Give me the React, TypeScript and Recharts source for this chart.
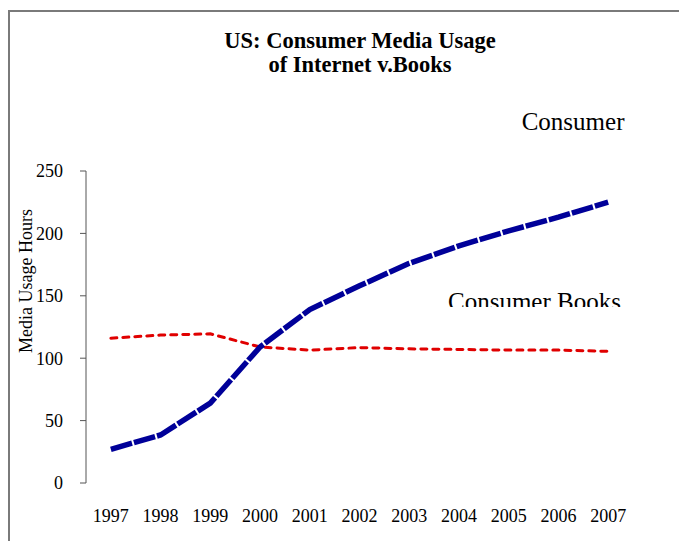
import { LineChart, Line, XAxis, YAxis } from 'recharts';

const years = ['1997', '1998', '1999', '2000', '2001', '2002', '2003', '2004', '2005', '2006', '2007'];
const internetHours = [27, 38.5, 64, 109, 139, 158, 176, 190, 202, 213, 225];
const bookHours = [116, 118.5, 119.5, 109, 106.5, 108.5, 107.5, 107, 106.5, 106.5, 105.5];
const yTicks = [0, 50, 100, 150, 200, 250];

const titleLines = ['US: Consumer Media Usage', 'of Internet v.Books'];
const yLabel = 'Media Usage Hours';
const internetLabel = 'Consumer';
const booksLabel = 'Consumer Books';

const serif = '"Liberation Serif", "Times New Roman", serif';

// x sits in the middle of each year's slot so the tick marks land on the slot edges
const data = years.map((year, i) => ({
  x: i + 0.5,
  year,
  internet: internetHours[i],
  books: bookHours[i],
}));

const boundaryTicks = years.map((_, i) => i).concat(years.length);
const centerTicks = years.map((_, i) => i + 0.5);

const W = 677;
const H = 531;

export default function App() {
  const tickStyle = { fill: '#000', fontSize: 18, fontFamily: serif };

  return (
    <div
      style={{
        marginTop: 2,
        borderTop: '2px solid #7a7a7a',
        borderLeft: '2px solid #7a7a7a',
        width: W,
        height: H,
        position: 'relative',
        background: '#fff',
      }}
    >
      <LineChart
        width={W}
        height={H}
        data={data}
        margin={{ top: 159, right: 54, left: 0, bottom: 0 }}
      >
        <XAxis
          xAxisId={0}
          dataKey="x"
          type="number"
          domain={[0, years.length]}
          ticks={boundaryTicks}
          tickFormatter={() => ''}
          height={0}
          tickSize={6}
          stroke="#555"
          axisLine={{ stroke: '#555' }}
          tickLine={{ stroke: '#555' }}
        />
        <XAxis
          xAxisId="labels"
          dataKey="x"
          type="number"
          domain={[0, years.length]}
          ticks={centerTicks}
          tickFormatter={(v: number) => years[Math.round(v - 0.5)]}
          height={60}
          axisLine={false}
          tickLine={false}
          tickSize={6}
          tickMargin={20}
          tick={tickStyle}
          interval={0}
        />
        <YAxis
          domain={[0, 250]}
          ticks={yTicks}
          width={76}
          tickSize={6}
          tickMargin={17}
          tick={tickStyle}
          axisLine={{ stroke: '#555' }}
          tickLine={{ stroke: '#555' }}
          interval={0}
        />
        <Line
          type="linear"
          dataKey="books"
          stroke="#e00000"
          strokeWidth={3}
          strokeDasharray="6 6"
          strokeLinecap="round"
          dot={false}
          activeDot={false}
          isAnimationActive={false}
        />
        <Line
          type="linear"
          dataKey="internet"
          stroke="#000099"
          strokeWidth={5.5}
          strokeDasharray="22 2"
          dot={false}
          activeDot={false}
          isAnimationActive={false}
        />
      </LineChart>

      <svg
        width={W}
        height={H}
        style={{ position: 'absolute', left: 0, top: 0, pointerEvents: 'none' }}
      >
        <defs>
          <clipPath id="booksClip">
            <rect x={0} y={0} width={W} height={295} />
          </clipPath>
        </defs>
        <text
          x={350}
          textAnchor="middle"
          fontFamily={serif}
          fontWeight="bold"
          fontSize={22.5}
          fill="#000"
        >
          <tspan x={350} y={35.7}>{titleLines[0]}</tspan>
          <tspan x={350} y={59.7}>{titleLines[1]}</tspan>
        </text>
        <text x={511.7} y={118} fontFamily={serif} fontSize={25} fill="#000">
          {internetLabel}
        </text>
        <text
          x={438}
          y={297.5}
          fontFamily={serif}
          fontSize={25}
          fill="#000"
          clipPath="url(#booksClip)"
        >
          {booksLabel}
        </text>
        <text
          x={16}
          y={269}
          transform="rotate(-90 16 269)"
          textAnchor="middle"
          dominantBaseline="central"
          fontFamily={serif}
          fontSize={18}
          fill="#000"
        >
          {yLabel}
        </text>
      </svg>
    </div>
  );
}
